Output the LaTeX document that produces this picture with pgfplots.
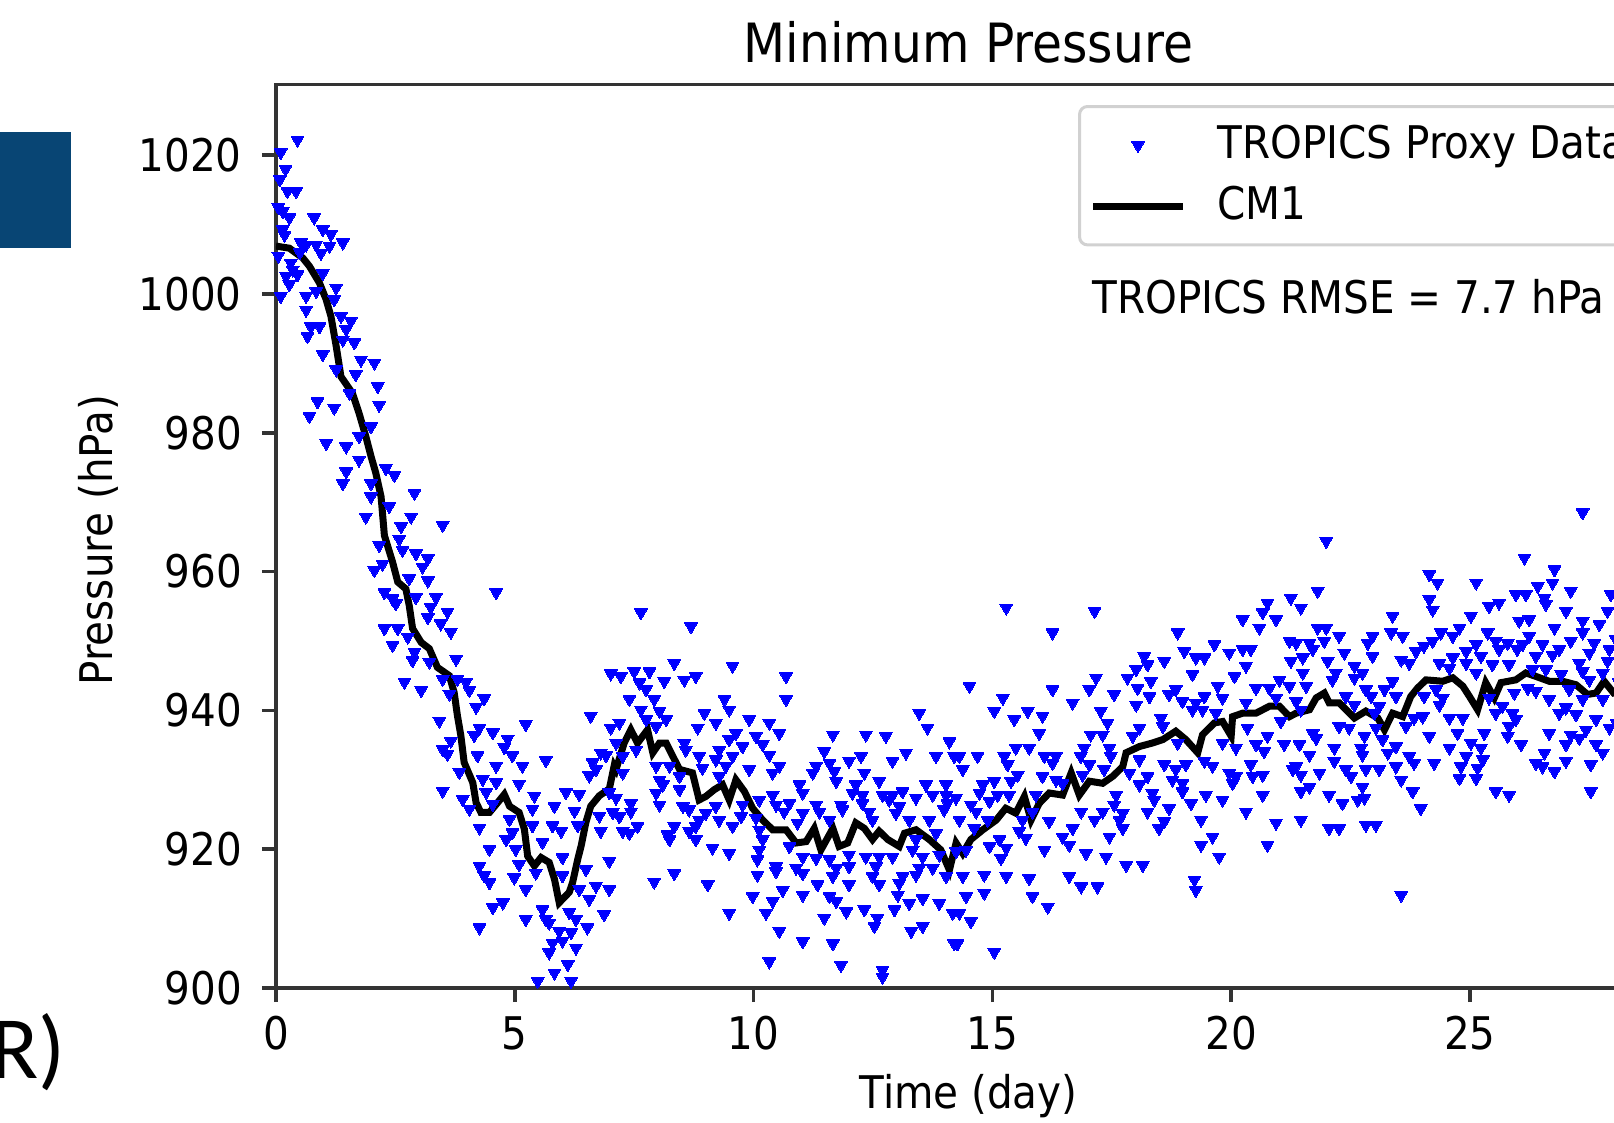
\documentclass[border=0pt]{standalone}
\usepackage{fontspec}
\setmainfont{DejaVu Sans}[FakeStretch=0.9]
\newfontfamily\slidefont{Carlito}
\usepackage{pgfplots}
\pgfplotsset{compat=1.18}
\definecolor{slideblue}{RGB}{8,69,116}

\pgfplotsset{
    marklegend/.style={legend image code/.code={\draw[mark repeat=2, mark phase=2, ##1]
        plot coordinates {(0cm,0cm) (0.45cm,0cm) (0.9cm,0cm)};}},
    linelegend/.style={legend image code/.code={\draw[##1] (0cm,0cm) -- (0.9cm,0cm);}},
}

% proxy observations (day, hPa)
\pgfplotstableread{
x y
0.45 1022.2
0.10 1020.4
0.20 1018.0
0.08 1016.5
0.24 1014.8
0.42 1014.8
0.05 1012.5
0.14 1011.9
0.28 1011.0
0.80 1011.0
0.14 1009.3
0.98 1009.3
1.15 1008.6
0.18 1008.5
0.52 1007.4
0.63 1007.1
0.84 1007.1
1.40 1007.4
1.12 1006.9
0.50 1006.0
0.94 1005.9
0.05 1005.5
0.31 1004.5
0.35 1003.5
0.98 1003.0
0.21 1002.6
0.45 1002.8
0.28 1001.4
1.26 1000.9
0.10 999.7
0.63 999.7
0.84 1000.4
1.22 999.2
0.63 997.7
1.36 996.8
1.57 996.1
0.73 995.3
0.91 995.3
1.47 994.9
0.66 993.9
1.40 993.4
1.64 993.0
0.98 991.3
1.78 990.5
2.06 990.1
1.26 989.1
1.67 988.4
2.13 986.7
1.54 985.7
0.87 984.5
1.22 983.6
2.16 984.0
0.70 982.4
1.99 980.9
1.74 979.5
1.05 978.5
1.47 978.0
1.74 976.1
2.30 974.9
2.48 973.9
1.47 974.4
1.40 972.7
1.99 972.7
1.99 970.8
2.90 971.3
2.37 969.4
1.88 967.9
2.83 967.9
2.62 966.5
3.49 966.7
2.16 963.8
2.58 964.7
2.65 963.1
2.93 962.6
3.18 961.9
2.23 961.1
2.06 960.2
3.07 960.7
2.79 959.0
3.18 958.7
4.61 957.0
2.27 957.0
2.44 956.1
2.93 956.3
3.35 956.3
2.51 955.4
3.24 954.9
3.59 954.2
3.18 953.4
3.45 952.5
2.27 951.8
2.55 951.8
3.66 951.3
2.76 950.6
2.44 949.4
2.90 948.4
3.77 947.4
2.86 947.2
3.21 947.0
2.69 944.1
3.49 944.5
3.80 944.5
3.98 944.1
3.04 942.9
3.63 942.4
4.05 942.9
4.36 941.7
4.19 940.5
7.01 945.3
6.59 939.2
5.23 938.0
3.42 938.5
4.26 937.5
4.54 936.8
7.01 937.5
4.85 935.9
3.66 935.6
4.15 936.4
3.49 934.4
4.78 934.7
6.80 933.9
6.91 933.5
3.59 933.7
4.22 933.5
4.95 933.5
5.65 932.8
4.61 932.0
5.16 932.0
6.63 932.5
3.84 931.1
4.33 930.1
4.61 929.6
5.09 929.4
6.56 930.6
6.70 931.5
3.49 928.4
3.91 927.2
4.40 928.2
5.41 927.7
6.07 928.2
6.35 927.9
6.98 928.2
4.05 925.8
4.54 926.5
5.37 925.8
5.83 926.2
6.25 925.5
6.77 924.8
7.05 925.3
4.26 923.1
4.89 924.3
5.37 923.4
5.79 923.4
5.97 922.6
6.32 923.4
6.80 922.6
4.95 922.4
4.82 921.4
5.58 921.0
4.47 920.0
5.02 920.0
6.00 918.8
6.98 918.3
4.26 917.6
5.09 917.8
5.44 916.6
6.00 916.2
6.49 917.1
4.36 916.2
4.99 915.9
4.47 915.2
5.23 914.2
6.70 914.7
6.98 914.2
6.35 914.2
6.56 912.8
4.75 912.3
4.54 911.6
5.58 911.3
6.14 910.9
5.23 909.9
5.65 909.9
6.28 909.9
6.87 910.6
4.26 908.7
6.52 908.7
5.72 909.4
5.93 908.2
6.18 908.0
5.79 906.5
6.00 906.8
6.28 905.8
5.72 905.1
6.11 903.4
5.83 902.2
5.48 901.0
6.18 901.0
7.64 954.1
8.69 952.1
8.34 946.8
9.56 946.4
10.68 944.9
7.22 944.9
7.50 945.6
7.82 945.6
7.61 944.0
8.13 944.2
8.55 944.4
8.79 944.9
7.75 943.0
7.40 941.6
7.92 941.6
9.39 941.6
10.68 941.6
7.64 940.1
8.03 939.9
8.97 939.6
9.49 940.1
7.75 938.7
8.17 938.7
9.21 938.2
9.91 938.7
10.33 938.2
13.47 939.6
7.19 938.2
8.83 937.5
9.63 936.7
10.54 936.7
13.64 937.5
11.66 936.5
12.35 936.5
12.77 936.3
14.10 935.5
8.55 935.3
9.49 935.8
10.05 936.3
7.12 935.3
7.96 937.7
7.54 934.3
8.58 934.3
9.28 934.3
9.77 934.8
10.19 935.1
11.48 934.1
12.25 933.4
13.19 933.9
13.82 933.4
7.26 933.4
8.86 933.4
9.21 932.9
9.56 933.4
10.33 933.6
14.20 933.4
12.91 932.7
11.59 932.4
11.31 932.0
12.00 932.7
10.54 932.0
7.96 932.0
8.24 932.0
8.93 931.7
9.42 932.0
9.91 931.5
10.40 931.0
11.24 931.0
11.69 931.2
12.32 931.0
7.26 931.0
8.03 930.0
8.45 930.5
9.28 930.5
11.73 929.8
12.63 929.8
12.14 929.3
10.96 929.3
13.61 929.3
14.03 929.3
8.10 929.3
8.45 928.6
7.96 928.1
10.40 927.8
11.03 928.1
12.07 928.1
12.28 927.8
12.70 927.8
12.91 927.8
13.12 928.3
13.40 927.4
13.75 927.8
14.03 927.8
7.12 927.4
7.43 926.6
8.03 926.4
8.52 926.2
9.21 926.2
9.77 926.4
10.12 927.1
10.47 926.4
10.75 926.6
11.31 926.4
11.83 926.4
12.28 926.6
12.84 927.1
13.05 926.2
14.06 926.6
7.43 925.4
8.65 925.7
9.00 925.2
10.64 925.4
11.03 925.2
11.38 925.4
11.86 925.7
12.42 925.4
12.98 925.2
13.99 925.7
7.19 924.7
8.86 924.2
9.28 924.2
9.74 924.7
10.05 924.5
10.92 923.8
11.59 924.2
12.49 924.2
13.26 924.2
13.68 924.2
7.57 923.3
8.34 923.3
8.79 923.3
9.56 923.3
10.12 922.8
7.26 922.6
7.40 922.3
8.20 922.1
8.65 922.6
13.82 922.3
8.79 921.4
8.24 921.4
10.19 921.4
10.75 920.4
13.40 921.4
13.33 919.9
9.14 920.2
9.49 919.4
10.12 919.9
11.03 918.9
11.31 918.7
11.59 918.5
12.00 919.2
12.35 918.9
12.63 918.9
12.91 918.9
13.54 918.9
13.89 919.2
10.08 918.5
10.47 917.5
10.89 917.3
11.73 917.3
12.00 917.5
12.56 917.5
13.47 917.3
13.75 917.3
8.34 916.5
10.08 916.3
10.47 916.8
11.03 916.5
11.66 916.1
12.49 916.1
13.12 916.1
13.40 916.3
14.03 916.1
7.92 915.3
9.04 914.9
11.34 914.9
12.00 914.9
12.63 914.9
13.05 915.1
10.61 914.1
11.03 913.4
11.59 913.2
13.02 913.4
9.98 913.2
10.40 912.5
11.73 912.5
13.26 912.2
13.54 912.9
13.89 912.2
9.49 910.8
10.26 910.8
11.94 911.0
12.32 911.3
12.95 911.3
14.17 910.8
11.48 910.1
12.59 910.1
12.53 908.9
13.54 908.9
13.30 908.2
10.54 908.2
11.03 906.7
11.66 906.4
14.20 906.4
10.33 903.8
11.83 903.3
12.70 902.6
12.70 901.6
15.29 954.8
17.14 954.3
20.76 955.5
21.25 956.2
20.66 954.1
20.24 953.1
20.94 953.1
20.59 951.9
16.26 951.2
18.88 951.2
21.22 950.0
19.65 949.5
19.02 948.5
20.24 948.8
20.41 948.8
19.96 948.3
18.18 947.8
19.44 947.6
19.26 947.6
18.60 947.1
21.25 947.1
18.25 946.6
20.31 946.4
18.01 945.9
17.17 944.7
17.83 944.7
19.19 945.2
20.07 944.9
18.32 944.2
21.01 944.4
14.52 943.5
16.26 943.0
17.03 943.0
18.04 943.2
18.84 943.0
19.72 943.5
20.52 943.2
20.80 943.2
21.22 943.5
15.22 941.8
16.68 941.1
17.55 942.3
18.29 942.0
18.70 942.3
19.44 942.0
19.82 941.8
18.01 940.8
18.98 941.3
19.26 941.1
20.94 941.8
20.31 941.1
15.04 939.9
15.74 939.9
17.27 939.9
16.05 939.2
19.19 940.1
19.40 940.1
19.68 939.6
15.46 938.7
18.53 938.9
21.04 938.4
17.41 938.2
15.98 936.7
18.08 937.5
17.06 936.5
17.31 936.5
17.94 936.3
18.57 937.7
20.34 937.5
20.76 936.3
18.88 935.3
19.82 935.3
20.52 935.1
21.11 935.1
15.49 934.6
15.77 934.6
16.92 934.6
17.45 934.6
20.10 934.6
20.69 934.1
14.31 933.4
14.69 933.4
15.25 933.4
16.09 933.4
16.33 933.4
16.85 933.4
17.48 933.4
18.08 932.9
19.44 932.7
15.32 932.2
16.26 932.4
17.03 932.2
18.60 932.2
19.05 932.2
19.61 932.0
20.41 932.2
14.38 931.5
17.34 931.5
17.87 931.0
18.84 931.5
19.96 931.0
20.66 930.7
21.29 931.5
15.53 930.7
16.05 930.5
16.33 930.0
16.89 930.7
18.25 930.5
18.77 930.0
20.10 930.5
20.45 930.5
15.39 929.8
14.80 929.3
15.04 929.8
16.47 929.5
18.08 929.3
18.98 929.5
20.03 929.5
14.73 928.1
15.11 927.8
15.35 927.8
15.91 927.8
17.59 927.8
18.35 928.1
18.98 928.3
19.47 927.8
20.66 927.8
14.24 927.4
14.55 926.4
14.94 926.9
17.55 926.4
18.39 927.1
19.16 926.6
19.82 927.1
14.66 925.4
15.84 925.4
16.86 925.4
17.31 925.4
17.73 925.2
18.25 925.4
18.70 925.9
20.31 925.4
14.31 924.2
14.90 924.2
15.63 924.2
16.19 924.0
17.14 924.2
17.66 924.2
18.60 924.0
19.37 924.2
20.94 923.8
14.62 923.0
15.56 922.6
16.68 923.0
17.73 923.0
18.49 923.0
15.15 921.4
15.70 921.6
16.47 921.8
17.45 921.8
19.61 921.8
14.94 920.4
15.29 920.2
16.61 920.6
19.37 920.6
20.76 920.6
14.24 919.7
14.45 919.9
16.09 919.9
16.96 919.4
17.38 918.9
19.75 918.9
15.18 918.7
17.80 917.7
18.15 917.7
14.38 916.1
14.83 916.3
15.29 916.1
15.77 915.8
16.61 916.1
19.23 915.6
16.86 914.6
17.20 914.6
19.26 914.1
14.83 913.7
14.45 913.2
15.84 913.2
16.16 911.7
14.31 910.8
14.55 909.6
15.04 905.2
14.27 906.4
27.36 968.5
21.99 964.4
26.14 962.0
26.77 960.3
24.15 959.6
24.32 958.4
25.13 958.4
21.81 957.2
26.42 957.9
26.73 958.4
27.11 957.2
27.95 956.7
24.15 956.0
25.96 956.7
26.17 956.7
26.56 956.2
26.59 955.3
25.40 955.0
25.61 955.5
21.46 954.8
24.22 954.5
27.01 954.3
27.88 954.3
23.38 953.6
25.02 953.6
26.03 952.9
26.24 953.1
27.36 952.9
27.71 952.4
21.81 951.9
21.99 951.9
26.77 951.9
24.78 951.9
23.35 951.2
24.39 951.2
25.37 951.2
27.36 951.2
22.26 950.7
22.96 950.7
23.59 950.7
24.64 950.7
26.24 950.7
21.64 949.7
21.95 950.0
22.86 949.7
24.22 950.0
25.54 950.0
25.79 949.7
27.11 950.0
27.60 949.7
21.36 949.7
24.04 949.3
25.13 949.5
26.10 949.5
26.52 949.5
21.71 948.8
23.87 948.5
24.92 948.5
25.61 948.8
25.99 948.8
26.87 948.8
27.92 948.8
22.37 948.3
27.50 948.3
21.50 947.6
22.96 947.8
23.56 947.3
24.64 947.6
25.23 947.8
26.38 947.8
26.73 948.0
22.02 947.1
23.73 946.8
24.36 946.8
24.92 946.8
27.29 946.8
27.88 947.1
22.58 946.4
25.47 946.6
25.82 946.6
24.57 946.1
26.31 945.9
26.59 945.9
21.50 945.4
22.19 945.4
22.75 945.4
25.13 945.4
27.36 945.6
27.78 945.4
22.12 944.4
22.58 944.7
23.38 944.2
27.50 944.4
21.57 943.5
26.91 945.2
22.82 943.0
23.21 943.0
24.29 943.0
25.93 942.5
26.21 943.2
26.38 942.8
27.08 943.0
22.40 942.0
22.93 942.0
23.45 942.0
24.04 942.0
24.43 941.8
25.40 941.8
21.36 941.3
26.66 941.6
27.36 941.6
27.78 941.6
22.58 940.8
23.10 940.6
24.36 940.8
25.68 940.6
27.01 940.4
21.46 940.1
23.00 939.6
25.54 939.6
25.89 939.6
26.87 939.6
27.22 939.4
23.83 938.9
24.01 939.1
24.57 938.9
24.85 938.9
25.96 938.7
27.64 938.7
22.26 937.7
22.47 937.5
23.03 937.5
23.66 937.7
27.92 937.5
27.43 937.2
25.82 937.7
21.71 936.7
24.74 936.7
25.30 936.7
26.66 936.7
27.11 936.5
21.78 936.0
22.79 936.3
23.17 935.8
24.15 936.3
25.79 936.3
27.29 936.0
21.43 935.1
22.16 934.6
22.72 934.6
23.45 934.8
25.02 935.3
26.07 935.1
27.01 935.1
27.64 935.1
24.57 934.6
25.23 934.6
21.64 933.6
22.75 933.6
23.28 933.9
26.56 933.9
27.78 933.9
23.73 933.4
24.92 933.4
25.27 932.9
21.36 931.9
22.16 932.7
23.83 932.4
24.25 932.4
26.38 932.4
27.01 932.7
27.53 932.2
21.85 931.0
22.40 931.5
22.82 931.5
23.10 931.5
23.45 931.9
24.81 931.9
25.16 931.7
26.52 931.9
26.77 931.2
21.46 930.7
22.51 930.5
23.56 930.0
24.78 930.2
25.13 930.2
21.64 929.0
22.75 929.0
21.46 928.3
23.80 928.3
25.54 928.3
25.82 927.8
27.53 928.3
22.05 927.8
22.33 926.6
22.65 927.1
22.79 927.4
23.97 925.9
21.46 924.2
22.05 923.0
22.26 923.0
22.82 923.5
23.03 923.5
23.56 913.4
28.06 950.2
28.12 944.0
28.08 938.1
}\proxydata

% CM1 simulation (day, hPa)
\pgfplotstableread{
x y
0.00 1006.9
0.28 1006.6
0.56 1005.2
0.70 1004.0
0.91 1001.6
1.05 999.2
1.15 996.8
1.26 992.5
1.36 988.1
1.60 985.7
1.74 982.8
1.88 979.5
1.99 976.6
2.09 974.2
2.20 970.8
2.27 965.2
2.44 961.4
2.55 958.5
2.72 957.5
2.79 955.1
2.86 951.8
3.04 949.8
3.21 948.9
3.38 946.2
3.63 945.0
3.73 942.6
3.80 939.2
3.87 936.4
3.94 932.5
4.12 929.6
4.19 926.7
4.29 925.3
4.47 925.3
4.64 926.7
4.78 927.9
4.89 926.2
5.09 925.3
5.20 922.9
5.27 919.0
5.41 917.6
5.55 918.8
5.72 918.1
5.83 915.7
5.93 912.3
6.14 913.8
6.21 915.2
6.32 918.6
6.39 920.5
6.49 923.9
6.59 926.2
6.77 927.7
6.98 928.7
7.08 932.0
7.12 931.5
7.29 935.3
7.43 937.2
7.57 935.3
7.78 937.2
7.89 933.9
8.03 935.3
8.17 935.3
8.27 933.9
8.45 931.5
8.72 931.0
8.86 927.1
9.00 927.6
9.18 928.6
9.35 929.3
9.49 927.1
9.63 930.0
9.81 928.3
9.98 925.9
10.19 924.2
10.40 922.8
10.68 922.8
10.89 920.9
11.10 921.1
11.27 923.0
11.41 919.9
11.66 923.0
11.79 920.4
11.97 920.9
12.14 923.8
12.32 923.0
12.49 921.4
12.63 922.6
12.81 921.4
13.05 920.4
13.16 922.3
13.40 922.8
13.68 921.4
13.92 919.9
14.10 917.0
14.24 920.9
14.38 919.4
14.55 921.4
14.80 922.8
15.08 924.2
15.28 925.9
15.49 925.2
15.67 927.6
15.81 924.2
15.98 926.6
16.19 928.1
16.47 927.8
16.65 931.0
16.82 927.8
17.03 929.8
17.31 929.5
17.52 930.5
17.73 931.9
17.80 933.9
18.08 934.8
18.35 935.3
18.57 935.8
18.84 937.0
19.05 935.8
19.30 933.9
19.40 936.5
19.65 938.2
19.82 938.4
20.00 936.3
20.03 939.1
20.24 939.6
20.52 939.6
20.80 940.6
21.01 940.6
21.22 939.1
21.36 939.6
21.64 940.1
21.78 941.8
21.95 942.5
22.05 941.1
22.26 941.1
22.58 938.9
22.82 939.9
23.07 938.9
23.21 937.2
23.38 939.6
23.59 939.1
23.76 942.0
23.90 943.2
24.08 944.4
24.43 944.2
24.64 944.7
24.85 943.5
24.99 942.0
25.16 940.1
25.33 944.0
25.51 941.8
25.65 944.0
25.96 944.4
26.17 945.4
26.38 944.9
26.66 944.2
26.94 944.2
27.22 943.7
27.46 942.3
27.64 942.5
27.81 944.2
28.01 942.5
28.40 942.9
28.80 943.4
}\cmonedata

\begin{document}
\begin{tikzpicture}
\useasboundingbox (-2.76,-1.34) rectangle (13.38,9.88);
\clip (-2.76,-1.34) rectangle (13.38,9.88);
\begin{axis}[
    scale only axis,
    width=13.85cm, height=9.036cm,
    xmin=0, xmax=29,
    ymin=900, ymax=1030.2,
    xtick={0,5,10,15,20,25},
    ytick={900,920,...,1020},
    tick pos=left,
    tick align=outside,
    major tick length=0.14cm,
    tick style={black!80, line width=0.036cm},
    axis line style={black!80, line width=0.036cm},
    /pgf/number format/assume math mode=true,
    /pgf/number format/set thousands separator={},
    tick label style={font=\fontsize{12.8}{15}\selectfont, inner sep=0pt},
    yticklabel style={anchor=east, xshift=-0.195cm},
    xticklabel style={anchor=north, yshift=-0.135cm},
    every axis title/.style={at={(0.5,1)}, anchor=base, yshift=0.224cm,
        font=\fontsize{15.4}{18}\selectfont},
    every axis x label/.style={at={(0.5,0)}, anchor=base, yshift=-1.206cm,
        font=\fontsize{12.8}{15}\selectfont},
    every axis y label/.style={at={(-0.1184,0.4955)}, rotate=90, anchor=base,
        font=\fontsize{12.8}{15}\selectfont},
    title={Minimum Pressure},
    xlabel={Time (day)},
    ylabel={Pressure (hPa)},
    legend style={at={(0.5791,0.9772)}, anchor=north west,
        draw=black!18, line width=0.03cm, rounded corners=0.08cm,
        inner xsep=0.1cm, inner ysep=0.177cm,
        row sep=0.19cm, column sep=0.31cm,
        nodes={inner sep=0pt, text height=0.34cm, text depth=0.08cm},
        font=\fontsize{12.8}{15}\selectfont},
    legend cell align=left,
]
\addplot[only marks, blue, mark=triangle*, mark size=2.1pt,
    mark options={rotate=180, fill=blue, draw=blue, line width=0pt},
    marklegend]
    table[x=x, y=y] {\proxydata};
\addlegendentry{TROPICS Proxy Data}

\addplot[black, line width=0.07cm, mark=none, linelegend]
    table[x=x, y=y] {\cmonedata};
\addlegendentry{CM1}

\node[anchor=base west, inner sep=0pt, font=\fontsize{12.8}{15}\selectfont]
    at (rel axis cs:0.5889,0.7467) {TROPICS RMSE = 7.7 hPa};
\end{axis}

% pieces of the surrounding slide
\fill[slideblue] (-2.76,7.40) rectangle (-2.05,8.56);
\node[anchor=base east, inner sep=0pt, font=\slidefont\fontsize{25.3}{30}\selectfont]
    at (-2.10,-0.903) {R)};
\end{tikzpicture}
\end{document}
